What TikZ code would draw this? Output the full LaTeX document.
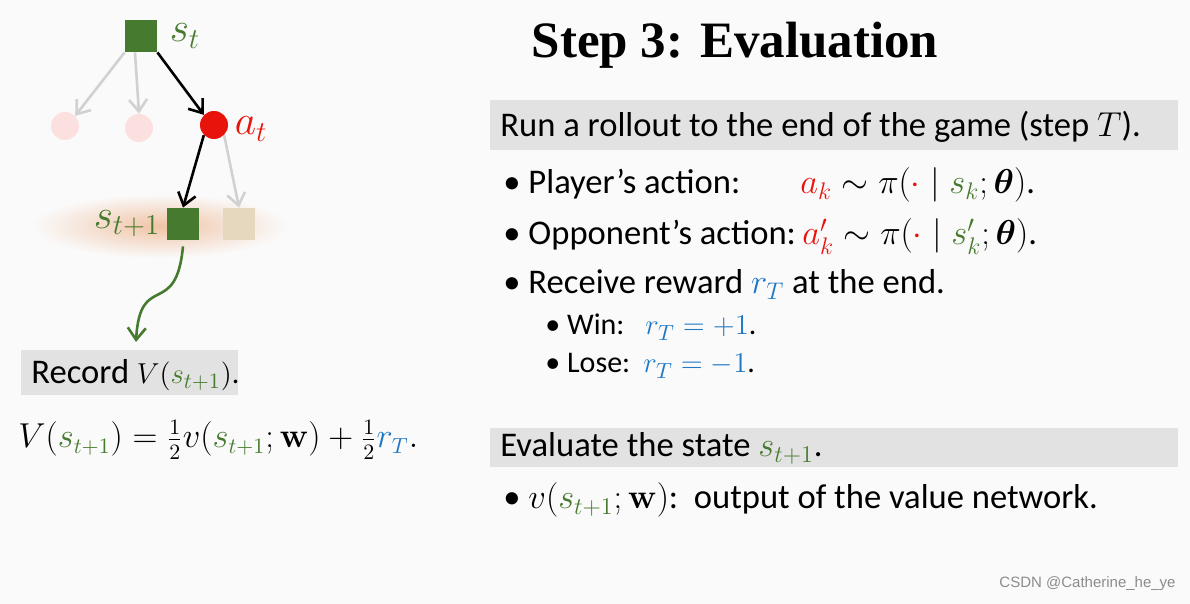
\documentclass[tikz,border=0pt]{standalone}
\usepackage{amsmath}
\usepackage[no-math]{fontspec}
\setmainfont{Carlito}
\newfontfamily\titlefont{Liberation Serif}
\newfontfamily\markfont{Liberation Sans}
\usetikzlibrary{arrows.meta, positioning}

\definecolor{bgcol}{HTML}{FAFAFA}
\definecolor{boxgray}{HTML}{E2E2E2}
\definecolor{stgreen}{HTML}{467A2E}
\definecolor{actred}{HTML}{E8140C}
\definecolor{rwblue}{HTML}{1F78C4}
\definecolor{fadepink}{HTML}{FCE0E0}
\definecolor{fadesq}{HTML}{E6D8BE}
\definecolor{glow}{HTML}{F0C4A6}

\newcommand{\sgr}[1]{\textcolor{stgreen}{#1}}
\newcommand{\ard}[1]{\textcolor{actred}{#1}}
\newcommand{\rbl}[1]{\textcolor{rwblue}{#1}}

\begin{document}
\begin{tikzpicture}[x=0.5pt, y=-0.5pt,
    state/.style={rectangle, fill=stgreen, minimum size=16pt, inner sep=0pt},
    ghost/.style={rectangle, fill=fadesq, minimum size=16pt, inner sep=0pt},
    action/.style={circle, fill=actred, minimum size=14pt, inner sep=0pt},
    faint/.style={circle, fill=fadepink, minimum size=14pt, inner sep=0pt},
    lbl/.style={font=\fontsize{21}{24}\selectfont, inner sep=0pt},
    txt/.style={anchor=base west, font=\fontsize{17.3}{20}\selectfont, inner sep=0pt},
    subtxt/.style={txt, font=\fontsize{15}{18}\selectfont},
    band/.style={rectangle, fill=boxgray, anchor=north west, inner sep=0pt},
    go/.style={-{Straight Barb[length=6pt, width=9pt]}, line width=1.3pt},
    dim/.style={go, draw=black!18}
]
\fill[bgcol] (0,0) rectangle (1190,604);
\useasboundingbox (0,0) rectangle (1190,604);

% left: search tree
\shade[inner color=glow, outer color=bgcol] (160,226) ellipse (128 and 32);
\node[state] (st) at (141,36) {};
\node[lbl, right=6pt of st] (stlbl) {$\sgr{s_t}$};
\node[faint] (f1) at (65,126) {};
\node[faint] (f2) at (139,128) {};
\node[action] (at) at (214,125) {};
\node[lbl, right=3pt of at, yshift=-2pt] (atlbl) {$\ard{a_t}$};
\node[state] (st1) at (183,224) {};
\node[ghost] (gh) at (239,224) {};
\node[lbl, left=3pt of st1] (st1lbl) {$\sgr{s_{t+1}}$};

\draw[dim] (st.south west) -- (f1.north east);
\draw[dim] ([xshift=-3pt]st.south) -- (f2.north);
\draw[go] (st.south east) -- (at.north west);
\draw[go] (at.south west) -- (st1.north);
\draw[dim] (at.south east) -- (gh.north);

\coordinate (recin) at (136,342);
\draw[go, stgreen] ([yshift=-3pt]st1.south) .. controls (176,320) and (140,270) .. (recin);

\node[band, minimum width=108.5pt, minimum height=22.5pt] (rec) at (21,350) {};
\node[txt] (rectxt) at (31,384) {Record {\fontsize{15}{18}\selectfont$V(\sgr{s_{t+1}})$.}};
\node[txt, font=\fontsize{16.2}{20}\selectfont] (veq) at (18,448)
  {$V(\sgr{s_{t+1}}) = \frac{1}{2}v(\sgr{s_{t+1}};\mathbf{w}) + \frac{1}{2}\rbl{r_T}.$};

% right: title and text
\node[font=\titlefont\bfseries\fontsize{25.5}{30}\selectfont, inner sep=0pt] (title) at (735,45) {Step 3: Evaluation};

\node[band, minimum width=344pt, minimum height=25pt] (roll) at (490,100) {};
\node[txt] (rolltxt) at (500,137) {Run a rollout to the end of the game (step $T$).};
\node[txt] (b1) at (503,194) {\textbullet\ Player’s action:};
\node[txt] (m1) at (800,194) {$\ard{a_k} \sim \pi(\ard{\cdot}\mid \sgr{s_k};\boldsymbol{\theta})$.};
\node[txt] (b2) at (503,245) {\textbullet\ Opponent’s action:};
\node[txt] (m2) at (802,245) {$\ard{a_k'} \sim \pi(\ard{\cdot}\mid \sgr{s_k'};\boldsymbol{\theta})$.};
\node[txt] (b3) at (503,294) {\textbullet\ Receive reward $\rbl{r_T}$ at the end.};
\node[subtxt] (b4) at (545,335) {\textbullet\ Win:};
\node[subtxt] (m4) at (645,335) {$\rbl{r_T = +1}$.};
\node[subtxt] (b5) at (545,373) {\textbullet\ Lose:};
\node[subtxt] (m5) at (643,373) {$\rbl{r_T = -1}$.};

\node[band, minimum width=344pt, minimum height=19.5pt] (eval) at (490,428) {};
\node[txt] (evaltxt) at (500,457) {Evaluate the state $\sgr{s_{t+1}}$.};
\node[txt] (b6) at (503,509) {\textbullet\ $v(\sgr{s_{t+1}};\mathbf{w})$:\ \ output of the value network.};

\node[anchor=base east, font=\markfont\fontsize{7.5}{9}\selectfont, text=black!45, inner sep=0pt] (mark) at (1176,588) {CSDN @Catherine\_he\_ye};
\end{tikzpicture}
\end{document}
